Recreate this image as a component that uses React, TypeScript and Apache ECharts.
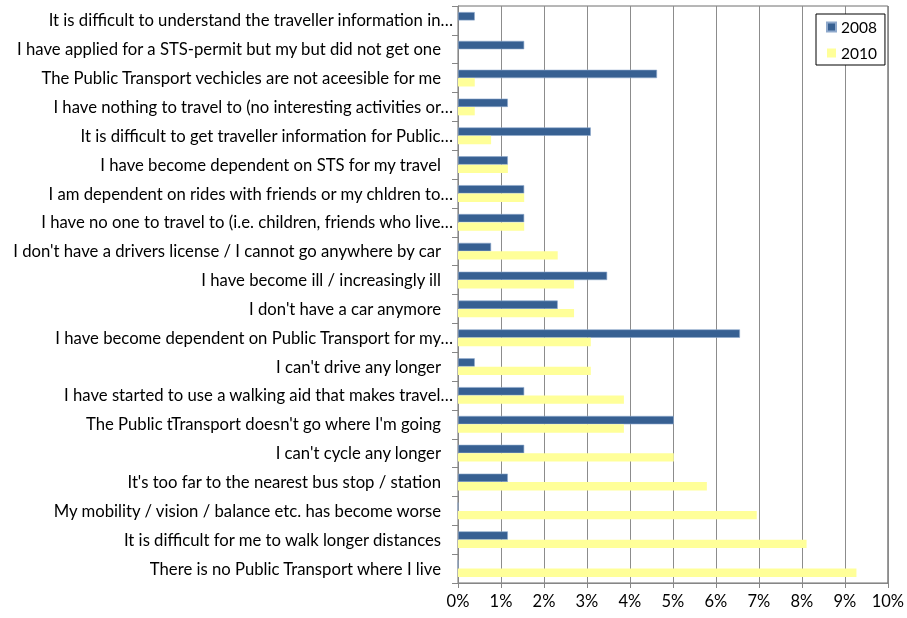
import React, { useEffect, useRef } from "react";
import * as echarts from "echarts";

const categories = [
  "It is difficult to understand the traveller information in…",
  "I have applied for a STS-permit but my but did not get one",
  "The Public Transport vechicles are not aceesible for me",
  "I have nothing to travel to (no interesting activities or…",
  "It is difficult to get traveller information for Public…",
  "I have become dependent on STS for my travel",
  "I am dependent on rides with friends or my chldren to…",
  "I have no one to travel to (i.e. children, friends who live…",
  "I don't have a drivers license / I cannot go anywhere by car",
  "I have become ill / increasingly ill",
  "I don't have a car anymore",
  "I have become dependent on Public Transport for my…",
  "I can't drive any longer",
  "I have started to use a walking aid that makes travel…",
  "The Public tTransport doesn't go where I'm going",
  "I can't cycle any longer",
  "It's too far to the nearest bus stop / station",
  "My mobility / vision / balance etc. has become worse",
  "It is difficult for me to walk longer distances",
  "There is no Public Transport where I live",
];

const values2008 = [
  0.39, 1.54, 4.63, 1.16, 3.09, 1.16, 1.54, 1.54, 0.77, 3.47,
  2.32, 6.56, 0.39, 1.54, 5.02, 1.54, 1.16, 0, 1.16, 0,
];

const values2010 = [
  0, 0, 0.39, 0.39, 0.77, 1.16, 1.54, 1.54, 2.32, 2.7,
  2.7, 3.09, 3.09, 3.86, 3.86, 5.02, 5.79, 6.95, 8.11, 9.27,
];

const seriesNames = ["2008", "2010"];
const FONT = "Lato, 'Liberation Sans', sans-serif";

export default function App() {
  const ref = useRef<HTMLDivElement>(null);
  useEffect(() => {
    if (!ref.current) return;
    const chart = echarts.init(ref.current, undefined, { renderer: "svg" });
    chart.setOption({
      animation: false,
      textStyle: { fontFamily: FONT },
      grid: {
        left: 458,
        right: 15,
        top: 6,
        bottom: 35,
        show: true,
        borderColor: "#6e6e6e",
        borderWidth: 1,
      },
      legend: {
        data: seriesNames,
        orient: "vertical",
        left: 816,
        top: 14,
        backgroundColor: "#fff",
        borderColor: "#000",
        borderWidth: 1,
        padding: [5, 8, 4, 10],
        itemWidth: 9,
        itemHeight: 9,
        itemGap: 10,
        icon: "rect",
        textStyle: { fontSize: 15.5, color: "#000", fontFamily: FONT },
      },
      xAxis: {
        type: "value",
        min: 0,
        max: 10,
        interval: 1,
        axisLine: { show: true, lineStyle: { color: "#868686" } },
        axisTick: { show: true, length: 5, lineStyle: { color: "#868686" } },
        splitLine: { show: true, lineStyle: { color: "#8c8c8c", width: 1 } },
        axisLabel: {
          formatter: "{value}%",
          fontSize: 16.5,
          color: "#000",
          margin: 9,
          fontFamily: FONT,
        },
      },
      yAxis: {
        type: "category",
        inverse: true,
        data: categories,
        axisLine: { show: true, lineStyle: { color: "#868686" } },
        axisTick: {
          show: true,
          length: 6,
          alignWithLabel: false,
          interval: 0,
          lineStyle: { color: "#868686" },
        },
        axisLabel: {
          interval: 0,
          fontSize: 16.7,
          color: "#000",
          margin: 5,
          fontFamily: FONT,
          formatter: (v: string) => (v.endsWith("…") ? v : "{p|" + v + "}"),
          rich: {
            p: {
              fontSize: 16.7,
              color: "#000",
              fontFamily: FONT,
              padding: [0, 12, 0, 0],
            },
          },
        },
      },
      series: [
        {
          name: seriesNames[0],
          type: "bar",
          data: values2008,
          barGap: "0%",
          barCategoryGap: "42%",
          itemStyle: { color: "#376092", borderColor: "#8fa9cc", borderWidth: 0.6 },
        },
        {
          name: seriesNames[1],
          type: "bar",
          data: values2010,
          barGap: "0%",
          barCategoryGap: "42%",
          itemStyle: { color: "#ffff99" },
        },
      ],
    });
    return () => chart.dispose();
  }, []);
  return (
    <div
      ref={ref}
      style={{ position: "fixed", left: 0, top: 0, width: 907, height: 618 }}
    />
  );
}
